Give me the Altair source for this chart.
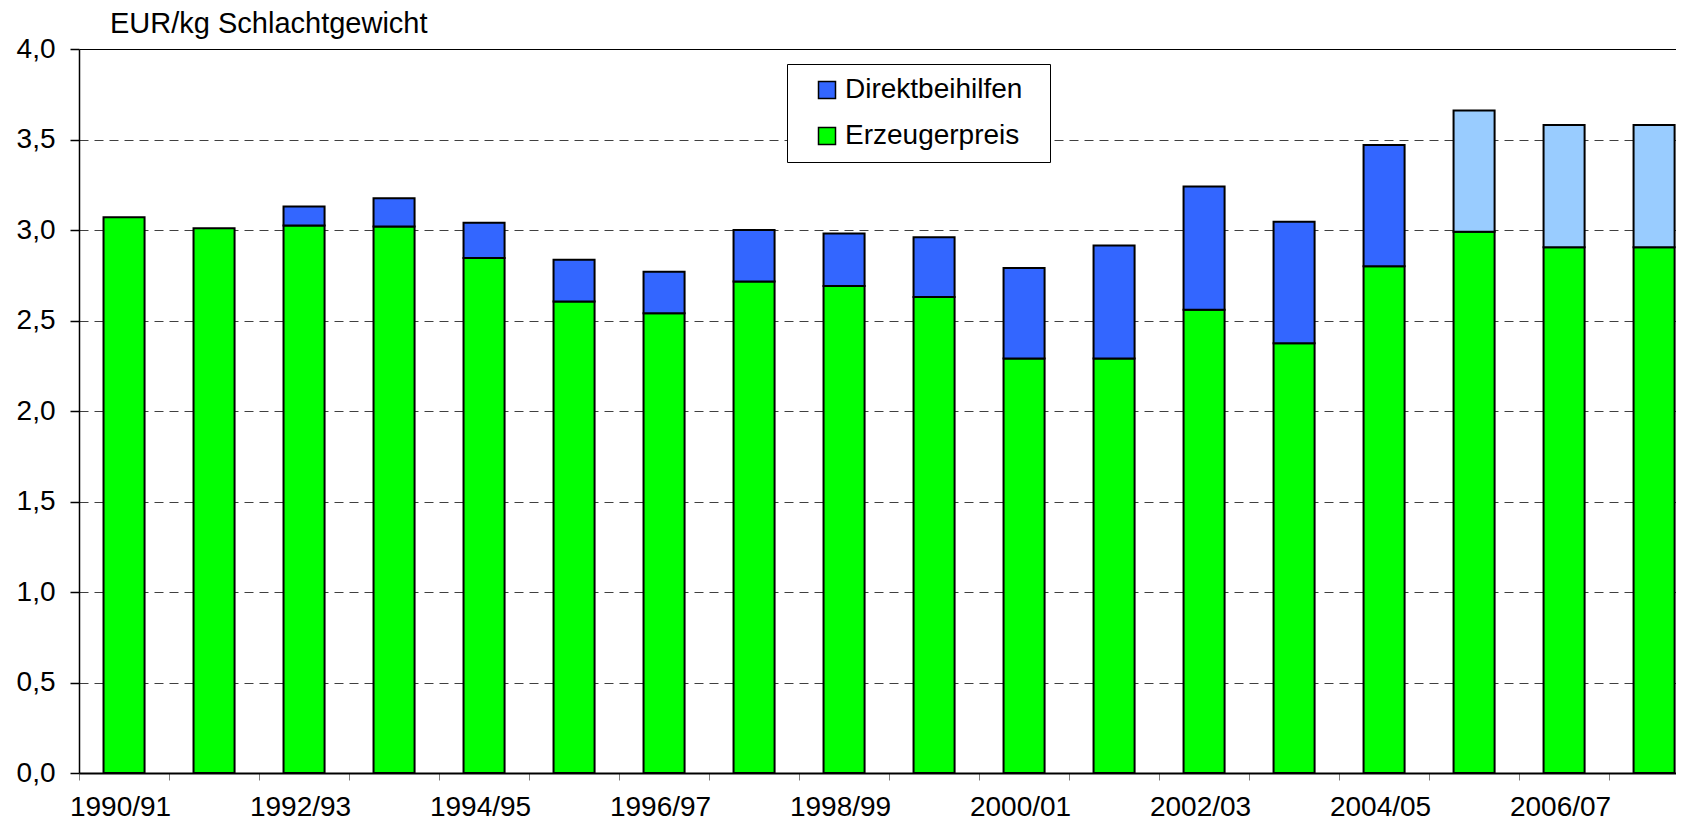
import altair as alt
import pandas as pd

FONT = "Liberation Sans"

jahre = ["1990/91", "1991/92", "1992/93", "1993/94", "1994/95", "1995/96",
         "1996/97", "1997/98", "1998/99", "1999/00", "2000/01", "2001/02",
         "2002/03", "2003/04", "2004/05", "2005/06", "2006/07", "2007/08"]
erzeugerpreis = [3.07, 3.01, 3.025, 3.02, 2.845, 2.605, 2.54, 2.715, 2.69, 2.63,
                 2.29, 2.29, 2.56, 2.375, 2.80, 2.99, 2.905, 2.905]
direktbeihilfen = [0.0, 0.0, 0.105, 0.155, 0.195, 0.23, 0.23, 0.285, 0.29, 0.33,
                   0.50, 0.625, 0.68, 0.67, 0.67, 0.67, 0.675, 0.675]
direkt_art = ["Direktbeihilfen"] * 15 + ["Direktbeihilfen geschaetzt"] * 3

serien = ["Direktbeihilfen", "Erzeugerpreis", "Direktbeihilfen geschaetzt"]
farben = ["#3366FF", "#00FF00", "#99CCFF"]
y_ticks = [0.0, 0.5, 1.0, 1.5, 2.0, 2.5, 3.0, 3.5, 4.0]

rows = []
for j, e, d, a in zip(jahre, erzeugerpreis, direktbeihilfen, direkt_art):
    rows.append({"Jahr": j, "Art": "Erzeugerpreis", "Wert": e, "Reihe": 0})
    if d > 0:
        rows.append({"Jahr": j, "Art": a, "Wert": d, "Reihe": 1})
df = pd.DataFrame(rows)

chart = alt.Chart(df).mark_bar(
    stroke="black", strokeWidth=2
).encode(
    x=alt.X("Jahr:N", sort=jahre,
            scale=alt.Scale(paddingInner=0.544, paddingOuter=0.144, align=0.946),
            axis=alt.Axis(title=None, labelAngle=0, bandPosition=0,
                          tickOffset=-24.5, labelOffset=20.5,
                          labelExpr="toNumber(slice(datum.label, 0, 4)) % 2 == 0 ? datum.label : ''",
                          labelFont=FONT, labelFontSize=28, labelColor="black",
                          labelBaseline="alphabetic",
                          labelPadding=35, tickSize=7, tickColor="#808080", tickWidth=1,
                          domainColor="black", domainWidth=2, grid=False,
                          labelOverlap=False)),
    y=alt.Y("Wert:Q", stack="zero",
            scale=alt.Scale(domain=[0, 4], nice=False),
            axis=alt.Axis(title=None, values=y_ticks,
                          labelExpr="replace(format(datum.value, '.1f'), '.', ',')",
                          labelFont=FONT, labelFontSize=28, labelColor="black",
                          labelPadding=15, tickSize=9, tickColor="black", tickWidth=1.5,
                          domainColor="black", domainWidth=1.5,
                          grid=True, gridWidth=1,
                          gridColor={"condition": {"test": "datum.value >= 4", "value": "black"}, "value": "#404040"},
                          gridDash={"condition": {"test": "datum.value >= 4", "value": []}, "value": [9, 6]},
                          gridOpacity={"condition": {"test": "datum.value <= 0", "value": 0}, "value": 1})),
    color=alt.Color("Art:N",
                    scale=alt.Scale(domain=serien, range=farben),
                    legend=alt.Legend(title=None, values=["Direktbeihilfen", "Erzeugerpreis"],
                                      orient="none", legendX=708, legendY=15,
                                      fillColor="white", strokeColor="black",
                                      padding=12, rowPadding=18,
                                      symbolType="square", symbolSize=289,
                                      symbolStrokeColor="black", symbolStrokeWidth=1.5,
                                      symbolOpacity=1, symbolOffset=14,
                                      labelOffset=4, labelFont=FONT, labelFontSize=28,
                                      labelColor="black", labelLimit=400,
                                      labelExpr="datum.label + '\u00a0\u00a0\u200b'")),
    order=alt.Order("Reihe:Q", sort="ascending"),
).properties(
    width=1597,
    height=724,
    background="white",
    title=alt.TitleParams(text="EUR/kg Schlachtgewicht", anchor="start", frame="group",
                          dx=31, dy=30, fontSize=29, fontWeight="normal", font=FONT,
                          color="black", baseline="alphabetic", offset=3),
    padding={"left": 71, "top": 41, "right": 0, "bottom": 48},
    autosize=alt.AutoSizeParams(type="none"),
).configure_view(
    strokeWidth=0
)

chart.save("out.html", embed_options={"renderer": "svg", "actions": False})
